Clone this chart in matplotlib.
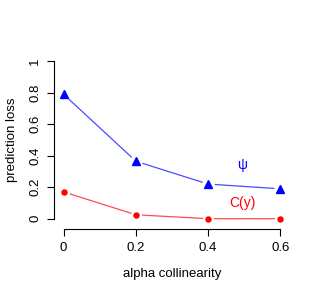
import numpy as np
import matplotlib.pyplot as plt

plt.rcParams['font.family'] = ['Liberation Sans', 'DejaVu Sans']

alpha = [0, 0.2, 0.4, 0.6]
psi_loss = [0.79, 0.365, 0.22, 0.19]
cy_loss = [0.17, 0.025, 0.0, 0.0]
xticks = [0, 0.2, 0.4, 0.6]
yticks = [0, 0.2, 0.4, 0.6, 0.8, 1]

W, H = 316, 294
fig = plt.figure(figsize=(W/100, H/100), dpi=100)
ax = fig.add_axes([55/W, 1 - 225/H, (289-55)/W, (225-55)/H])

ax.set_xlim(-0.024, 0.624)
ax.set_ylim(-0.04, 1.04)

# type="b" style: lines with gaps around the points
ax.plot(alpha, psi_loss, color='#4c4cff', lw=0.9, zorder=1)
ax.plot(alpha, cy_loss, color='#ff4c4c', lw=0.9, zorder=1)
ax.plot(alpha, psi_loss, ls='none', marker='o', ms=9, mfc='white', mec='none', zorder=2)
ax.plot(alpha, cy_loss, ls='none', marker='o', ms=8, mfc='white', mec='none', zorder=2)
ax.plot(alpha, psi_loss, ls='none', marker='^', ms=5.5, color='blue', zorder=3)
ax.plot(alpha, cy_loss, ls='none', marker='o', ms=3.6, color='red', zorder=3)

ax.text(0.495, 0.34, 'ψ', color='blue', fontsize=10, ha='center', va='center')
ax.text(0.495, 0.10, 'C(y)', color='red', fontsize=10, ha='center', va='center')

for s in ['top', 'right']:
    ax.spines[s].set_visible(False)
ax.spines['bottom'].set_bounds(0, 0.6)
ax.spines['left'].set_bounds(0, 1)
ax.spines['bottom'].set_position(('outward', 3))
ax.spines['left'].set_position(('outward', 1))
for s in ['bottom', 'left']:
    ax.spines[s].set_linewidth(0.8)

ax.set_xticks(xticks)
ax.set_xticklabels(['0', '0.2', '0.4', '0.6'])
ax.set_yticks(yticks)
ax.set_yticklabels(['0', '0.2', '0.4', '0.6', '0.8', '1'], rotation=90, va='center')
ax.tick_params(labelsize=9.5, length=5, width=0.8, pad=4)

ax.set_xlabel('alpha collinearity', fontsize=9.5, labelpad=10)
ax.set_ylabel('prediction loss', fontsize=9.5, labelpad=8)

fig.savefig('out.png', dpi=100)
